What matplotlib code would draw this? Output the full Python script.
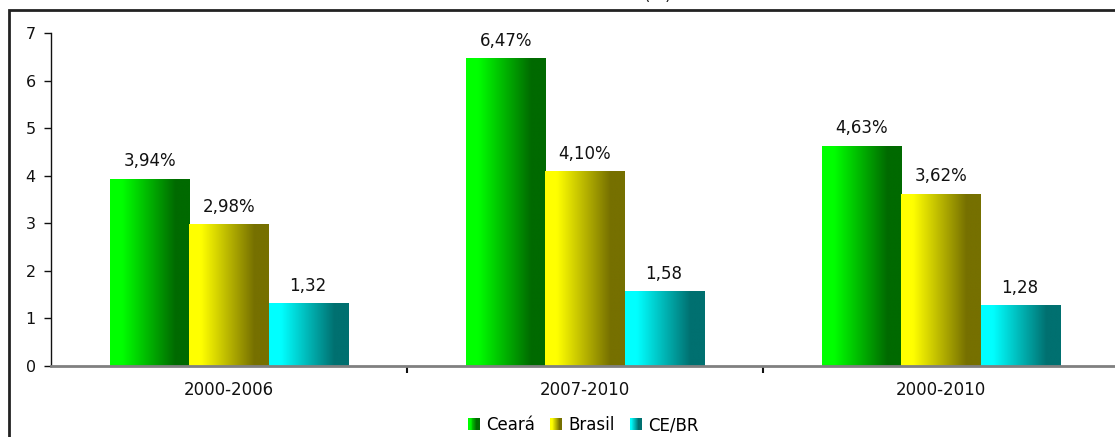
import numpy as np
import matplotlib
matplotlib.use("Agg")
import matplotlib.pyplot as plt
from matplotlib.colors import LinearSegmentedColormap
from matplotlib.patches import Rectangle
from matplotlib.legend_handler import HandlerBase

plt.rcParams['font.family'] = ['DejaVu Sans']

periods = ["2000-2006", "2007-2010", "2000-2010"]
series_names = ["Ceará", "Brasil", "CE/BR"]
ceara = [3.94, 6.47, 4.63]
brasil = [2.98, 4.10, 3.62]
ce_br = [1.32, 1.58, 1.28]
label_suffix = ["%", "%", ""]
yticks = [0, 1, 2, 3, 4, 5, 6, 7]

gradients = [("#00ff00", "#006a00"), ("#ffff00", "#767000"), ("#00ffff", "#007070")]


def make_cmap(c0, c1):
    return LinearSegmentedColormap.from_list(
        "g", [(0.0, c0), (0.15, c0), (0.82, c1), (1.0, c1)])


W, H = 1115, 437
fig = plt.figure(figsize=(W / 100, H / 100), dpi=100)

# outer chart frame (runs past the right and bottom edges)
frame = Rectangle((9 / W, -0.05), 1.2, (H - 10) / H + 0.05, transform=fig.transFigure,
                  fill=False, edgecolor="#222222", linewidth=2.0, clip_on=False)
fig.patches.append(frame)

fig.text(658 / W, 1 - 4 / H, "(%)", ha="center", va="bottom", fontsize=12, color="#222222")

ax = fig.add_axes([51 / W, (H - 366) / H, 1068 / W, 333 / H])
ax.set_xlim(-0.5, 2.5)
ax.set_ylim(0, 7)

x = np.arange(len(periods))
width = 0.222
offsets = [-width, 0, width]
data = [ceara, brasil, ce_br]

for vals, off, (c0, c1), suf in zip(data, offsets, gradients, label_suffix):
    cmap = make_cmap(c0, c1)
    bars = ax.bar(x + off, vals, width, color="none", edgecolor="none", zorder=2)
    grad = np.linspace(0, 1, 256).reshape(1, -1)
    for b, v in zip(bars, vals):
        x0 = b.get_x()
        im = ax.imshow(grad, cmap=cmap, aspect="auto", extent=(x0, x0 + width, 0, v),
                       interpolation="bilinear", zorder=2)
        im.set_clip_path(b)
        ax.annotate(f"{v:.2f}".replace(".", ",") + suf, (x0 + width / 2, v),
                    xytext=(0, 6), textcoords="offset points", ha="center", va="bottom",
                    fontsize=12, color="#111111")

ax.set_xlim(-0.5, 2.5)
ax.set_ylim(0, 7)

for s in ["top", "right"]:
    ax.spines[s].set_visible(False)
ax.spines["left"].set_color("#111111")
ax.spines["left"].set_linewidth(1.0)
ax.spines["bottom"].set_color("#808080")
ax.spines["bottom"].set_linewidth(2.0)
ax.spines["bottom"].set_zorder(3)

ax.set_yticks(yticks)
ax.set_yticklabels([str(t) for t in yticks])
ax.tick_params(axis="y", direction="out", length=5, width=1, color="#111111",
               labelsize=11.5, pad=6, labelcolor="#111111")

ax.set_xticks([0.5, 1.5], minor=True)
ax.set_xticks(x)
ax.set_xticklabels(periods)
ax.tick_params(axis="x", which="major", length=0, labelsize=12, pad=11, labelcolor="#111111")
ax.tick_params(axis="x", which="minor", direction="out", length=5, width=1.5, color="#111111")


class GradientHandler(HandlerBase):
    def __init__(self, c0, c1):
        super().__init__()
        self.c0, self.c1 = c0, c1

    def create_artists(self, legend, orig_handle, xdescent, ydescent, width, height,
                       fontsize, trans):
        cmap = make_cmap(self.c0, self.c1)
        n = 12
        side = height
        x0 = -xdescent + (width - side)
        arts = []
        for i in range(n):
            r = Rectangle((x0 + side * i / n, -ydescent), side / n + 0.3, side,
                          facecolor=cmap(i / (n - 1)), edgecolor="none", transform=trans)
            arts.append(r)
        return arts


handles = [Rectangle((0, 0), 1, 1) for _ in series_names]
handler_map = {h: GradientHandler(c0, c1) for h, (c0, c1) in zip(handles, gradients)}
fig.legend(handles, series_names, handler_map=handler_map, loc="center",
           bbox_to_anchor=(583 / W, 1 - 425 / H), ncol=3, frameon=False, fontsize=12,
           handlelength=0.7, handleheight=0.7, handletextpad=0.4, columnspacing=0.9)

fig.savefig("out.png", dpi=100)
